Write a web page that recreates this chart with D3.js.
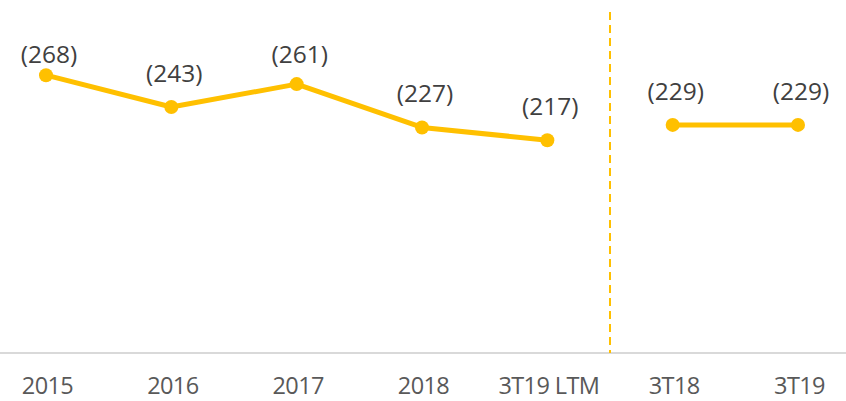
<!DOCTYPE html>
<html>
<head>
<meta charset="utf-8">
<script src="https://cdn.jsdelivr.net/npm/d3@7"></script>
<style>
  body { margin: 0; background: #fff; }
  text { font-family: "Open Sans", sans-serif; }
</style>
</head>
<body>
<div id="chart"></div>
<script>
const categories = ["2015", "2016", "2017", "2018", "3T19 LTM", "3T18", "3T19"];
const annualValues = [268, 243, 261, 227, 217];
const quarterValues = [229, 229];
const annualCats = categories.slice(0, 5);
const quarterCats = categories.slice(5);

const fullWidth = 846;
const fullHeight = 401;
const baseY = 353;
const labelTop = 63; // labels don't go above the plot area

const svg = d3.select("#chart")
              .append("svg")
              .attr("width", fullWidth)
              .attr("height", fullHeight);

const xScale = d3.scalePoint()
                 .domain(categories)
                 .range([46, 798]);

const yScale = d3.scaleLinear()
                 .domain([50, 327])
                 .range([baseY, 0]);

// baseline
svg.append("line")
   .attr("x1", 0).attr("x2", fullWidth)
   .attr("y1", baseY).attr("y2", baseY)
   .attr("stroke", "#d9d9d9")
   .attr("stroke-width", 2);

// dashed separator between the two groups
const sepX = (xScale("3T19 LTM") + xScale("3T18")) / 2;
svg.append("line")
   .attr("x1", sepX).attr("x2", sepX)
   .attr("y1", 12).attr("y2", baseY)
   .attr("stroke", "#FFC000")
   .attr("stroke-width", 2)
   .attr("stroke-dasharray", "8,5");

const xAxis = d3.axisBottom(xScale).tickSize(0).tickPadding(0);
const axisG = svg.append("g")
   .attr("transform", `translate(0,${baseY})`)
   .call(xAxis);
axisG.select(".domain").remove();
axisG.selectAll("text")
     .attr("y", 41)
     .attr("dy", 0)
     .attr("dx", 1)
     .attr("fill", "#595959")
     .style("font-family", "'Open Sans', sans-serif")
     .style("font-size", "23.5px")
     .style("letter-spacing", "-0.6px");

const line = d3.line()
               .x(d => xScale(d.cat))
               .y(d => yScale(d.v));

const series = [
  annualCats.map((c, i) => ({ cat: c, v: annualValues[i] })),
  quarterCats.map((c, i) => ({ cat: c, v: quarterValues[i] }))
];

series.forEach(s => {
  svg.append("path")
     .datum(s)
     .attr("d", line)
     .attr("fill", "none")
     .attr("stroke", "#FFC000")
     .attr("stroke-width", 5)
     .attr("stroke-linejoin", "round");

  svg.selectAll(null)
     .data(s)
     .enter()
     .append("circle")
     .attr("cx", d => xScale(d.cat))
     .attr("cy", d => yScale(d.v))
     .attr("r", 7)
     .attr("fill", "#FFC000");

  svg.selectAll(null)
     .data(s)
     .enter()
     .append("text")
     .attr("x", d => xScale(d.cat) + 3)
     .attr("y", d => Math.max(yScale(d.v) - 25, labelTop))
     .attr("text-anchor", "middle")
     .attr("fill", "#404040")
     .style("font-size", "24.5px")
     .text(d => `(${d.v})`);
});
</script>
</body>
</html>
